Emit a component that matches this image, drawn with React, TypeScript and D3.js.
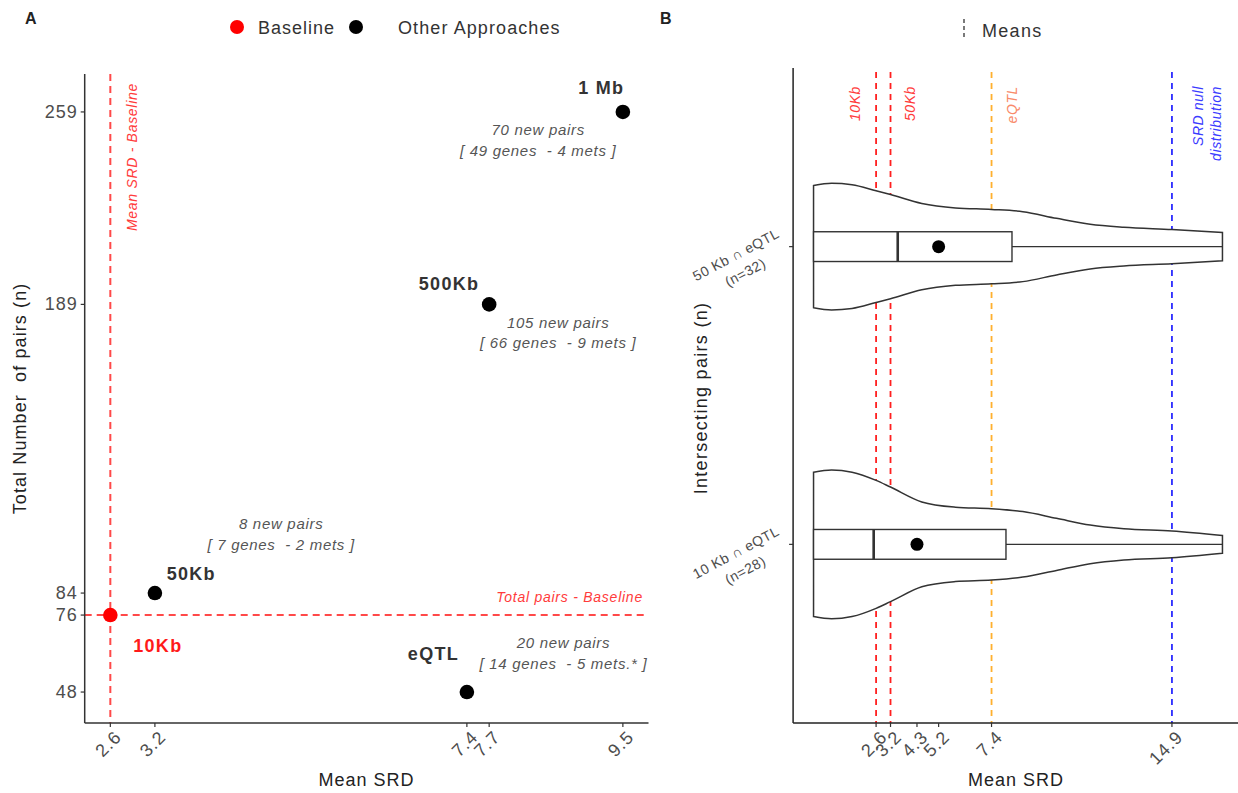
import React from "react";
import * as d3 from "d3";

// ---------- Panel A: approaches vs. baseline ----------
const approaches = ["10Kb", "50Kb", "eQTL", "500Kb", "1 Mb"];
const meanSRD = [2.6, 3.2, 7.4, 7.7, 9.5];
const totalPairs = [76, 84, 48, 189, 259];
const isBaseline = [true, false, false, false, false];
// where each approach name is written (data units)
const nameSRD = [3.24, 3.69, 6.95, 7.16, 9.21];
const namePairs = [62.6, 88.8, 59.7, 194.2, 265.5];

const noteFirst = ["8 new pairs", "20 new pairs", "105 new pairs", "70 new pairs"];
const noteSecond = [
  "[ 7 genes  - 2 mets ]",
  "[ 14 genes  - 5 mets.* ]",
  "[ 66 genes  - 9 mets ]",
  "[ 49 genes  - 4 mets ]",
];
const noteSRD = [4.9, 8.7, 8.63, 8.36];
const notePairs = [107.3, 64.0, 180.5, 250.6];

const xTicksA = [2.6, 3.2, 7.4, 7.7, 9.5];
const yTicksA = [48, 76, 84, 189, 259];
const baselineSRD = 2.6;
const baselinePairs = 76;

// ---------- Panel B: SRD distributions of intersecting pairs ----------
const pairSets = ["10 Kb \u2229 eQTL", "50 Kb \u2229 eQTL"];
const pairCounts = [28, 32];
const boxQ1 = [0, 0];
const boxMedian = [2.5, 3.5];
const boxQ3 = [8.0, 8.25];
const boxMax = [17.0, 17.0];
const srdMeans = [4.3, 5.2];

const srdGrid = [0, 0.75, 1.6, 2.6, 3.2, 4.5, 5.9, 7.4, 8.7, 10.1, 11.5, 12.9, 14.9, 17.0];
const density10Kb = [0.97, 1.0, 0.97, 0.86, 0.77, 0.57, 0.5, 0.48, 0.44, 0.35, 0.26, 0.21, 0.18, 0.12];
const density50Kb = [0.82, 0.85, 0.83, 0.75, 0.7, 0.58, 0.52, 0.5, 0.47, 0.38, 0.3, 0.26, 0.23, 0.19];
const densities = [density10Kb, density50Kb];

const refNames = [["10Kb"], ["50Kb"], ["eQTL"], ["SRD null", "distribution"]];
const refSRD = [2.6, 3.2, 7.4, 14.9];
const refLabelSRD = [1.73, 3.99, 8.23, 15.98];
const refLineColors = ["#ff2020", "#ff2020", "#ffb02e", "#2b2bff"];
const refTextColors = ["#ff3b3b", "#ff3b3b", "#f98a6a", "#3b3bff"];
const xTicksB = [2.6, 3.2, 4.3, 5.2, 7.4, 14.9];

const FONT = "'Liberation Sans', Arial, Helvetica, sans-serif";
const TICK_TEXT = "#4d4d4d";
const INK = "#222";

function RotTick({ x, y, label }: { x: number; y: number; label: string }) {
  return (
    <text
      transform={`translate(${x + 3},${y}) rotate(-45)`}
      textAnchor="end"
      dy="0.72em"
      fontSize={18}
      letterSpacing={1}
      fill={TICK_TEXT}
    >
      {label}
    </text>
  );
}

export default function App() {
  const xA = d3.scaleLinear().domain([2.255, 9.845]).range([84.7, 648.5]);
  const yA = d3.scaleLinear().domain([36.74, 272.8]).range([723, 74]);

  const xB = d3.scaleLinear().domain([-0.85, 17.85]).range([793.1, 1242.9]);
  const yB = d3.scalePoint<string>().domain(pairSets).range([723, 68]).padding(0.6);
  const step = yB.step();
  const halfWidth = d3.scaleLinear().domain([0, 1]).range([0, step * 0.25]);
  const boxHalf = step * 0.05;

  const [ax0, ax1] = xA.range();
  const [ayBottom, ayTop] = yA.range();
  const [bx0] = xB.range();
  const [byBottom, byTop] = yB.range();

  return (
    <svg
      width={1238}
      height={793}
      style={{ position: "absolute", left: 0, top: 0, background: "#fff" }}
      fontFamily={FONT}
    >
      <rect width={1238} height={793} fill="#fff" />

      {/* ================= Panel A ================= */}
      <text x={25} y={24} fontSize={16} fontWeight="bold" fill={INK}>A</text>

      {/* legend */}
      <g>
        <circle cx={237} cy={27} r={7} fill="#ff0000" />
        <text x={258} y={34} fontSize={18} letterSpacing={1} fill="#333">Baseline</text>
        <circle cx={356} cy={27} r={7} fill="#000" />
        <text x={398} y={34} fontSize={18} letterSpacing={1.1} fill="#333">Other Approaches</text>
      </g>

      {/* baseline reference lines */}
      <line
        x1={xA(baselineSRD)} x2={xA(baselineSRD)} y1={ayTop} y2={ayBottom}
        stroke="#ff2a2a" strokeWidth={2} strokeDasharray="7,5" opacity={0.85}
      />
      <line
        x1={ax0} x2={ax1} y1={yA(baselinePairs)} y2={yA(baselinePairs)}
        stroke="#ff2a2a" strokeWidth={2} strokeDasharray="7,5" opacity={0.85}
      />
      <text
        transform={`translate(${xA(2.89)},${yA(269.5)}) rotate(-90)`}
        textAnchor="end" dominantBaseline="central"
        fontSize={14} fontStyle="italic" letterSpacing={0.7} fill="#ff3b3b"
      >
        Mean SRD - Baseline
      </text>
      <text
        x={xA(9.77)} y={yA(80.9)} textAnchor="end"
        fontSize={14} fontStyle="italic" letterSpacing={0.75} fill="#ff3b3b"
      >
        Total pairs - Baseline
      </text>

      {/* axes */}
      <line x1={ax0} x2={ax0} y1={ayTop} y2={ayBottom} stroke="#333" strokeWidth={1.5} />
      <line x1={ax0} x2={ax1} y1={ayBottom} y2={ayBottom} stroke="#333" strokeWidth={1.5} />
      {yTicksA.map((t) => (
        <g key={"ya" + t}>
          <line x1={ax0 - 4} x2={ax0} y1={yA(t)} y2={yA(t)} stroke="#333" strokeWidth={1.2} />
          <text
            x={ax0 - 7} y={yA(t)} textAnchor="end" dominantBaseline="central"
            fontSize={18} letterSpacing={1} fill={TICK_TEXT}
          >
            {t}
          </text>
        </g>
      ))}
      {xTicksA.map((t) => (
        <g key={"xa" + t}>
          <line x1={xA(t)} x2={xA(t)} y1={ayBottom} y2={ayBottom + 4} stroke="#333" strokeWidth={1.2} />
          <RotTick x={xA(t)} y={ayBottom + 6} label={String(t)} />
        </g>
      ))}
      <text x={(ax0 + ax1) / 2} y={786} textAnchor="middle" fontSize={18} letterSpacing={1} fill={INK}>
        Mean SRD
      </text>
      <text
        transform={`translate(26,${(ayTop + ayBottom) / 2}) rotate(-90)`}
        textAnchor="middle" fontSize={18} letterSpacing={1.1} fill={INK}
        xmlSpace="preserve"
      >
        {"Total Number  of pairs (n)"}
      </text>

      {/* points */}
      {approaches.map((a, i) => (
        <circle
          key={"pt" + a}
          cx={xA(meanSRD[i])} cy={yA(totalPairs[i])} r={7.3}
          fill={isBaseline[i] ? "#ff0000" : "#000"}
        />
      ))}
      {approaches.map((a, i) => (
        <text
          key={"nm" + a}
          x={xA(nameSRD[i])} y={yA(namePairs[i])} textAnchor="middle"
          fontSize={18} fontWeight="bold" letterSpacing={1.3}
          fill={isBaseline[i] ? "#ff1a1a" : "#333"}
        >
          {a}
        </text>
      ))}
      {noteFirst.map((n, i) => (
        <g key={"note" + i} fontSize={15} fontStyle="italic" letterSpacing={0.7} fill="#555">
          <text x={xA(noteSRD[i])} y={yA(notePairs[i])} textAnchor="middle" xmlSpace="preserve">{n}</text>
          <text x={xA(noteSRD[i])} y={yA(notePairs[i]) + 20.5} textAnchor="middle" xmlSpace="preserve">
            {noteSecond[i]}
          </text>
        </g>
      ))}

      {/* ================= Panel B ================= */}
      <text x={660} y={24} fontSize={16} fontWeight="bold" fill={INK}>B</text>

      {/* legend */}
      <line x1={964} x2={964} y1={19} y2={38} stroke="#333" strokeWidth={1.3} strokeDasharray="4,3" />
      <text x={982} y={37} fontSize={18} letterSpacing={1.3} fill="#333">Means</text>

      {/* mean reference lines */}
      {refSRD.map((v, i) => (
        <line
          key={"ref" + i}
          x1={xB(v)} x2={xB(v)} y1={byTop + 4} y2={byBottom}
          stroke={refLineColors[i]} strokeWidth={1.8} strokeDasharray="6,5"
        />
      ))}
      {refNames.map((lines, i) =>
        lines.map((ln, j) => (
          <text
            key={"refl" + i + "-" + j}
            transform={`translate(${xB(refLabelSRD[i]) + j * 18},86) rotate(-90)`}
            textAnchor="end" dominantBaseline="central"
            fontSize={14} fontStyle="italic" letterSpacing={0.6} fill={refTextColors[i]}
          >
            {ln}
          </text>
        ))
      )}

      {/* violins with boxplots */}
      {pairSets.map((s, i) => {
        const cy = yB(s) as number;
        const pts = srdGrid.map((v, k) => [v, densities[i][k]] as [number, number]);
        const area = d3
          .area<[number, number]>()
          .x((d) => xB(d[0]))
          .y0((d) => cy - halfWidth(d[1]))
          .y1((d) => cy + halfWidth(d[1]))
          .curve(d3.curveMonotoneX);
        return (
          <g key={"vio" + s}>
            <path d={area(pts) || ""} fill="#fff" stroke="#333" strokeWidth={1.5} />
            <line x1={xB(boxQ3[i])} x2={xB(boxMax[i])} y1={cy} y2={cy} stroke="#333" strokeWidth={1.3} />
            <rect
              x={xB(boxQ1[i])} y={cy - boxHalf}
              width={xB(boxQ3[i]) - xB(boxQ1[i])} height={boxHalf * 2}
              fill="#fff" stroke="#333" strokeWidth={1.4}
            />
            <line
              x1={xB(boxMedian[i])} x2={xB(boxMedian[i])} y1={cy - boxHalf} y2={cy + boxHalf}
              stroke="#333" strokeWidth={2.6}
            />
            <circle cx={xB(srdMeans[i])} cy={cy} r={6.5} fill="#000" />
          </g>
        );
      })}

      {/* axes */}
      <line x1={bx0} x2={bx0} y1={byTop} y2={byBottom} stroke="#222" strokeWidth={1.5} />
      <line x1={bx0} x2={1238} y1={byBottom} y2={byBottom} stroke="#222" strokeWidth={1.5} />
      {pairSets.map((s, i) => {
        const cy = yB(s) as number;
        return (
          <g key={"yb" + s}>
            <line x1={bx0 - 4} x2={bx0} y1={cy} y2={cy} stroke="#333" strokeWidth={1.2} />
            <g transform={`translate(${bx0 - 6},${cy}) rotate(-28)`} fontSize={14} letterSpacing={0.5} fill={TICK_TEXT}>
              <text x={-49} y={-12} textAnchor="middle">{s}</text>
              <text x={-49} y={8} textAnchor="middle">{`(n=${pairCounts[i]})`}</text>
            </g>
          </g>
        );
      })}
      {xTicksB.map((t) => (
        <g key={"xb" + t}>
          <line x1={xB(t)} x2={xB(t)} y1={byBottom} y2={byBottom + 4} stroke="#333" strokeWidth={1.2} />
          <RotTick x={xB(t)} y={byBottom + 6} label={String(t)} />
        </g>
      ))}
      <text x={1016} y={786} textAnchor="middle" fontSize={18} letterSpacing={1} fill={INK}>
        Mean SRD
      </text>
      <text
        transform={`translate(707,398) rotate(-90)`}
        textAnchor="middle" fontSize={18} letterSpacing={1.3} fill={INK}
      >
        Intersecting pairs (n)
      </text>
    </svg>
  );
}
